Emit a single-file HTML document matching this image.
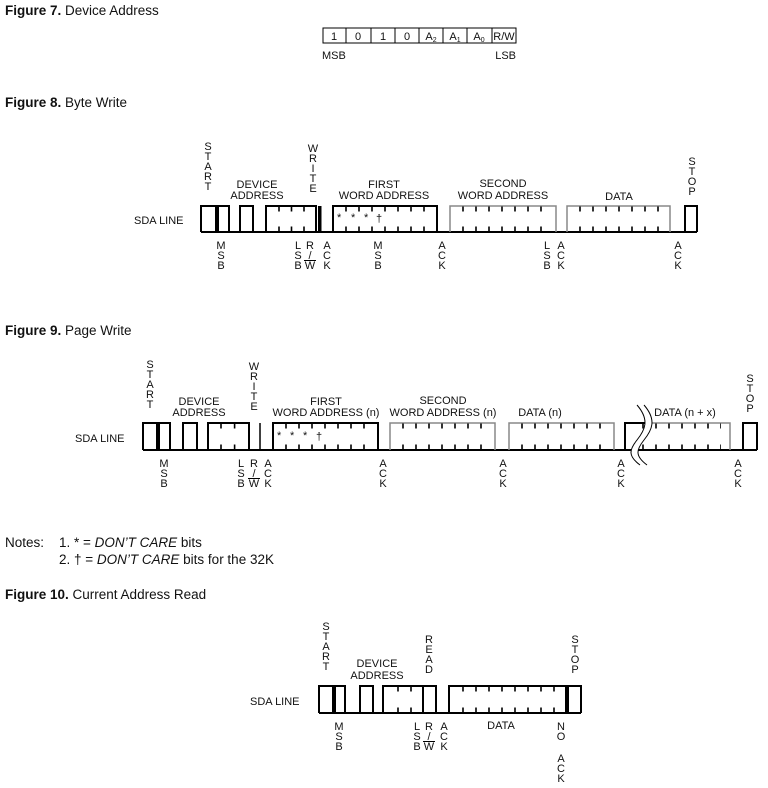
<!DOCTYPE html>
<html><head><meta charset="utf-8"><style>
html,body{margin:0;padding:0;background:#fff;}
svg{display:block;}
text{font-family:"Liberation Sans",Arial,sans-serif;fill:#111;}
.t{font-size:13.5px;}
.l{font-size:11px;}
.v{font-size:11px;text-anchor:middle;}
.c{font-size:11px;text-anchor:middle;}
.k{fill:none;stroke:#000;stroke-width:2;}
.g{fill:none;stroke:#888;stroke-width:1.5;}
.tk{fill:none;stroke:#000;stroke-width:5;stroke-dasharray:1.6 11.4;}
</style></head><body>
<svg width="768" height="788" viewBox="0 0 768 788" xmlns="http://www.w3.org/2000/svg">
<!-- Titles -->
<text class="t" x="5" y="15"><tspan font-weight="bold">Figure 7.</tspan>  Device Address</text>
<text class="t" x="5" y="107"><tspan font-weight="bold">Figure 8.</tspan>  Byte Write</text>
<text class="t" x="5" y="335"><tspan font-weight="bold">Figure 9.</tspan>  Page Write</text>
<text class="t" x="5" y="599"><tspan font-weight="bold">Figure 10.</tspan>  Current Address Read</text>

<!-- Figure 7 table -->
<rect x="323" y="28" width="193" height="15" fill="none" stroke="#000" stroke-width="1"/>
<g stroke="#000" stroke-width="1">
<line x1="346" y1="28" x2="346" y2="43"/><line x1="371" y1="28" x2="371" y2="43"/>
<line x1="395" y1="28" x2="395" y2="43"/><line x1="419" y1="28" x2="419" y2="43"/>
<line x1="443" y1="28" x2="443" y2="43"/><line x1="467" y1="28" x2="467" y2="43"/>
<line x1="492" y1="28" x2="492" y2="43"/>
</g>
<text class="c" x="334" y="40">1</text><text class="c" x="358" y="40">0</text>
<text class="c" x="383" y="40">1</text><text class="c" x="407" y="40">0</text>
<text class="c" x="431" y="40">A<tspan font-size="7" dy="2">2</tspan></text>
<text class="c" x="455" y="40">A<tspan font-size="7" dy="2">1</tspan></text>
<text class="c" x="479" y="40">A<tspan font-size="7" dy="2">0</tspan></text>
<text class="c" x="504" y="40">R/W</text>
<text class="l" x="322" y="59">MSB</text>
<text class="l" x="516" y="59" text-anchor="end">LSB</text>

<!-- ============ Figure 8 ============ -->
<text class="l" x="134" y="224">SDA LINE</text>
<line class="k" x1="201" y1="232" x2="697" y2="232"/>
<path class="k" d="M201,232V206H216V232 M218,232V206H229V232 M240,232V206H253V232 M266,232V206H316V232"/>
<rect x="318" y="206" width="3.5" height="26" fill="#000"/>
<path class="k" d="M333,232V206H437V232"/>
<path class="g" d="M450,232V206H556V232 M567,232V206H670V232"/>
<path class="k" d="M685,232V206H697V232"/>
<line class="tk" x1="278.2" y1="209" x2="305" y2="209" style="stroke-dasharray:1.6 10.9"/>
<line class="tk" x1="278.2" y1="229" x2="305" y2="229" style="stroke-dasharray:1.6 10.9"/>
<line class="tk" x1="345.2" y1="209" x2="428" y2="209"/>
<line class="tk" x1="345.2" y1="229" x2="428" y2="229"/>
<line class="tk" x1="462.2" y1="209" x2="547" y2="209"/>
<line class="tk" x1="462.2" y1="229" x2="547" y2="229"/>
<line class="tk" x1="579.2" y1="209" x2="661" y2="209"/>
<line class="tk" x1="579.2" y1="229" x2="661" y2="229"/>
<text class="l" x="337" y="221" font-size="9">*</text><text class="l" x="351" y="221" font-size="9">*</text><text class="l" x="364" y="221" font-size="9">*</text><text class="l" x="376" y="222">†</text>
<text class="v"><tspan x="208" y="150">S</tspan><tspan x="208" y="160">T</tspan><tspan x="208" y="170">A</tspan><tspan x="208" y="180">R</tspan><tspan x="208" y="190">T</tspan></text>
<text class="v"><tspan x="313" y="152">W</tspan><tspan x="313" y="162">R</tspan><tspan x="313" y="172">I</tspan><tspan x="313" y="182">T</tspan><tspan x="313" y="192">E</tspan></text>
<text class="c" x="257" y="188">DEVICE</text><text class="c" x="257" y="199">ADDRESS</text>
<text class="c" x="384" y="188">FIRST</text><text class="c" x="384" y="199">WORD ADDRESS</text>
<text class="c" x="503" y="187">SECOND</text><text class="c" x="503" y="199">WORD ADDRESS</text>
<text class="c" x="619" y="200">DATA</text>
<text class="v"><tspan x="692" y="165">S</tspan><tspan x="692" y="175">T</tspan><tspan x="692" y="185">O</tspan><tspan x="692" y="195">P</tspan></text>
<text class="v"><tspan x="221" y="249">M</tspan><tspan x="221" y="259">S</tspan><tspan x="221" y="269">B</tspan></text>
<text class="v"><tspan x="298" y="249">L</tspan><tspan x="298" y="259">S</tspan><tspan x="298" y="269">B</tspan></text>
<text class="v"><tspan x="310" y="249">R</tspan><tspan x="310" y="259">/</tspan><tspan x="310" y="269">W</tspan></text>
<line x1="304" y1="260.5" x2="316" y2="260.5" stroke="#000" stroke-width="1"/>
<text class="v"><tspan x="327" y="249">A</tspan><tspan x="327" y="259">C</tspan><tspan x="327" y="269">K</tspan></text>
<text class="v"><tspan x="378" y="249">M</tspan><tspan x="378" y="259">S</tspan><tspan x="378" y="269">B</tspan></text>
<text class="v"><tspan x="442" y="249">A</tspan><tspan x="442" y="259">C</tspan><tspan x="442" y="269">K</tspan></text>
<text class="v"><tspan x="547" y="249">L</tspan><tspan x="547" y="259">S</tspan><tspan x="547" y="269">B</tspan></text>
<text class="v"><tspan x="561" y="249">A</tspan><tspan x="561" y="259">C</tspan><tspan x="561" y="269">K</tspan></text>
<text class="v"><tspan x="678" y="249">A</tspan><tspan x="678" y="259">C</tspan><tspan x="678" y="269">K</tspan></text>

<!-- ============ Figure 9 ============ -->
<text class="l" x="75" y="442">SDA LINE</text>
<line class="k" x1="143" y1="450" x2="757" y2="450"/>
<path class="k" d="M143,450V423H157V450 M159,450V423H170V450 M183,450V423H197V450 M208,450V423H249V450"/>
<line class="k" x1="260" y1="423" x2="260" y2="450" style="stroke-width:1.5"/>
<path class="k" d="M273,450V423H378V450"/>
<path class="g" d="M390,450V423H495V450 M509,450V423H614V450 M651,423H730V450"/>
<path class="k" d="M625,450V423H651"/>
<path class="k" d="M743,450V423H757V450"/>
<line class="tk" x1="220.2" y1="426" x2="246" y2="426" style="stroke-dasharray:1.6 12"/>
<line class="tk" x1="220.2" y1="447" x2="246" y2="447" style="stroke-dasharray:1.6 12"/>
<line class="tk" x1="285.2" y1="426" x2="369" y2="426"/>
<line class="tk" x1="285.2" y1="447" x2="369" y2="447"/>
<line class="tk" x1="402.2" y1="426" x2="486" y2="426"/>
<line class="tk" x1="402.2" y1="447" x2="486" y2="447"/>
<line class="tk" x1="521.2" y1="426" x2="605" y2="426"/>
<line class="tk" x1="521.2" y1="447" x2="605" y2="447"/>
<line class="tk" x1="642.2" y1="426" x2="721" y2="426"/>
<line class="tk" x1="642.2" y1="447" x2="721" y2="447"/>
<path d="M637,405 C650,420 645,430 637,440 C629,450 628,456 640,465 L647,465 C635,456 636,450 644,440 C652,430 657,420 644,405 Z" fill="#fff" stroke="none"/>
<path d="M637,405 C650,420 645,430 637,440 C629,450 628,456 640,465 M644,405 C657,420 652,430 644,440 C636,450 635,456 647,465" fill="none" stroke="#000" stroke-width="1"/>
<text class="l" x="277" y="439" font-size="9">*</text><text class="l" x="290" y="439" font-size="9">*</text><text class="l" x="303" y="439" font-size="9">*</text><text class="l" x="316" y="440">†</text>
<text class="v"><tspan x="150" y="368">S</tspan><tspan x="150" y="378">T</tspan><tspan x="150" y="388">A</tspan><tspan x="150" y="398">R</tspan><tspan x="150" y="408">T</tspan></text>
<text class="v"><tspan x="254" y="370">W</tspan><tspan x="254" y="380">R</tspan><tspan x="254" y="390">I</tspan><tspan x="254" y="400">T</tspan><tspan x="254" y="410">E</tspan></text>
<text class="c" x="199" y="405">DEVICE</text><text class="c" x="199" y="416">ADDRESS</text>
<text class="c" x="326" y="405">FIRST</text><text class="c" x="326" y="416">WORD ADDRESS (n)</text>
<text class="c" x="443" y="404">SECOND</text><text class="c" x="443" y="416">WORD ADDRESS (n)</text>
<text class="c" x="540" y="416">DATA (n)</text>
<text class="c" x="685" y="416">DATA (n + x)</text>
<text class="v"><tspan x="750" y="382">S</tspan><tspan x="750" y="392">T</tspan><tspan x="750" y="402">O</tspan><tspan x="750" y="412">P</tspan></text>
<text class="v"><tspan x="164" y="467">M</tspan><tspan x="164" y="477">S</tspan><tspan x="164" y="487">B</tspan></text>
<text class="v"><tspan x="241" y="467">L</tspan><tspan x="241" y="477">S</tspan><tspan x="241" y="487">B</tspan></text>
<text class="v"><tspan x="254" y="467">R</tspan><tspan x="254" y="477">/</tspan><tspan x="254" y="487">W</tspan></text>
<line x1="248" y1="478.5" x2="260" y2="478.5" stroke="#000" stroke-width="1"/>
<text class="v"><tspan x="268" y="467">A</tspan><tspan x="268" y="477">C</tspan><tspan x="268" y="487">K</tspan></text>
<text class="v"><tspan x="383" y="467">A</tspan><tspan x="383" y="477">C</tspan><tspan x="383" y="487">K</tspan></text>
<text class="v"><tspan x="503" y="467">A</tspan><tspan x="503" y="477">C</tspan><tspan x="503" y="487">K</tspan></text>
<text class="v"><tspan x="621" y="467">A</tspan><tspan x="621" y="477">C</tspan><tspan x="621" y="487">K</tspan></text>
<text class="v"><tspan x="738" y="467">A</tspan><tspan x="738" y="477">C</tspan><tspan x="738" y="487">K</tspan></text>

<!-- Notes -->
<text class="t" x="5" y="547">Notes:</text>
<text class="t" x="59" y="547">1.   * = <tspan font-style="italic">DON’T CARE</tspan> bits</text>
<text class="t" x="59" y="564">2.   † = <tspan font-style="italic">DON’T CARE</tspan> bits for the 32K</text>

<!-- ============ Figure 10 ============ -->
<text class="l" x="250" y="705">SDA LINE</text>
<line class="k" x1="319" y1="713" x2="581" y2="713"/>
<path class="k" d="M319,713V686H333V713 M335,713V686H345V713 M360,713V686H373V713 M383,713V686H436V713"/>
<line class="k" x1="423" y1="686" x2="423" y2="713"/>
<path class="k" d="M449,713V686H566V713 M568,713V686H581V713"/>
<line class="tk" x1="397.2" y1="689" x2="412" y2="689"/>
<line class="tk" x1="397.2" y1="710" x2="412" y2="710"/>
<line class="tk" x1="462.2" y1="689" x2="557" y2="689"/>
<line class="tk" x1="462.2" y1="710" x2="557" y2="710"/>
<text class="v"><tspan x="326" y="630">S</tspan><tspan x="326" y="640">T</tspan><tspan x="326" y="650">A</tspan><tspan x="326" y="660">R</tspan><tspan x="326" y="670">T</tspan></text>
<text class="v"><tspan x="429" y="643">R</tspan><tspan x="429" y="653">E</tspan><tspan x="429" y="663">A</tspan><tspan x="429" y="673">D</tspan></text>
<text class="c" x="377" y="667">DEVICE</text><text class="c" x="377" y="679">ADDRESS</text>
<text class="v"><tspan x="575" y="643">S</tspan><tspan x="575" y="653">T</tspan><tspan x="575" y="663">O</tspan><tspan x="575" y="673">P</tspan></text>
<text class="v"><tspan x="339" y="730">M</tspan><tspan x="339" y="740">S</tspan><tspan x="339" y="750">B</tspan></text>
<text class="v"><tspan x="417" y="730">L</tspan><tspan x="417" y="740">S</tspan><tspan x="417" y="750">B</tspan></text>
<text class="v"><tspan x="429" y="730">R</tspan><tspan x="429" y="740">/</tspan><tspan x="429" y="750">W</tspan></text>
<line x1="423" y1="741.5" x2="435" y2="741.5" stroke="#000" stroke-width="1"/>
<text class="v"><tspan x="444" y="730">A</tspan><tspan x="444" y="740">C</tspan><tspan x="444" y="750">K</tspan></text>
<text class="c" x="501" y="729">DATA</text>
<text class="v"><tspan x="561" y="730">N</tspan><tspan x="561" y="740">O</tspan><tspan x="561" y="762">A</tspan><tspan x="561" y="772">C</tspan><tspan x="561" y="782">K</tspan></text>
</svg>
</body></html>
